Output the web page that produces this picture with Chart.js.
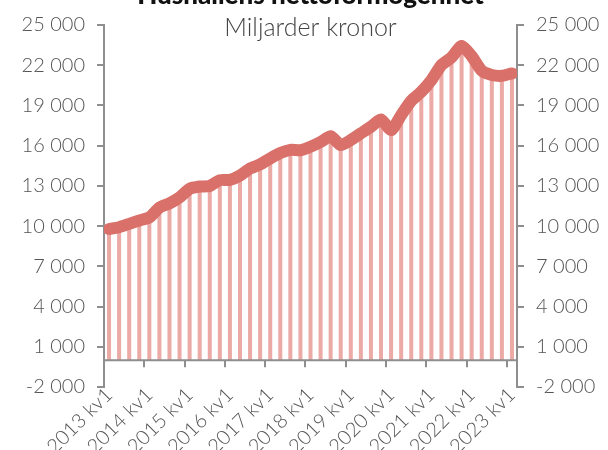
<!DOCTYPE html>
<html lang="sv">
<head>
<meta charset="utf-8">
<title>Hushållens nettoförmögenhet</title>
<script src="https://cdn.jsdelivr.net/npm/chart.js@4/dist/chart.umd.min.js"></script>
<style>
  html, body { margin: 0; padding: 0; background: #fff; }
  #wrap { width: 608px; height: 450px; }
</style>
</head>
<body>
<div id="wrap"><canvas id="wealthChart" width="608" height="450"></canvas></div>
<script>
// Hushållens nettoförmögenhet, miljarder kronor, kvartal 2013 kv1 - 2023 kv1
const quarters = [];
for (let year = 2013; year <= 2023; year++) {
  for (let q = 1; q <= 4; q++) {
    if (year === 2023 && q > 1) break;
    quarters.push(year + " kv" + q);
  }
}

const netWealth = [
  9780, 9920, 10170, 10420,
  10650, 11380, 11700, 12150,
  12780, 12950, 12990, 13430,
  13450, 13780, 14300, 14600,
  15050, 15450, 15690, 15660,
  15920, 16270, 16710, 16040,
  16420, 16920, 17410, 17960,
  17160, 18280, 19350, 20020,
  20890, 22010, 22580, 23430,
  22680, 21590, 21270, 21210,
  21390,
];

const yMin = -2000;
const yMax = 25000;
const yStep = 3000;

const lineColor = "#d9706a";
const barColor = "#ebaaa6";
const axisColor = "#8e8e8e";
const textColor = "#555555";
const tickFont = { family: "Lato", size: 20, weight: "300" };

function formatNumber(v) {
  const s = Math.abs(v).toString().replace(/\B(?=(\d{3})+(?!\d))/g, "\u00a0");
  return (v < 0 ? "-" : "") + s;
}

// zero line with year ticks, as in the original
const zeroAxis = {
  id: "zeroAxis",
  afterDatasetsDraw(chart) {
    const { ctx, chartArea, scales } = chart;
    const x = scales.x;
    const y0 = scales.y.getPixelForValue(0);
    const half = (x.getPixelForValue(1) - x.getPixelForValue(0)) / 2;
    ctx.save();
    ctx.strokeStyle = axisColor;
    ctx.lineWidth = 2;
    ctx.beginPath();
    ctx.moveTo(chartArea.left, y0);
    ctx.lineTo(chartArea.right, y0);
    quarters.forEach((q, i) => {
      if (i % 4 !== 0) return;
      const px = Math.round(x.getPixelForValue(i) - half);
      ctx.moveTo(px, y0);
      ctx.lineTo(px, y0 + 7);
    });
    ctx.stroke();
    ctx.restore();
  },
};

const headings = {
  id: "headings",
  afterDraw(chart) {
    const { ctx, chartArea } = chart;
    const cx = (chartArea.left + chartArea.right) / 2;
    ctx.save();
    ctx.textAlign = "center";
    ctx.textBaseline = "alphabetic";
    ctx.fillStyle = "#111111";
    ctx.font = "900 26px Lato";
    ctx.fillText("Hushållens nettoförmögenhet", cx, 4);
    ctx.fillStyle = "#444444";
    ctx.font = "300 25px Lato";
    ctx.fillText("Miljarder kronor", cx, 36);
    ctx.restore();
  },
};

const yAxis = (position, width) => ({
  type: "linear",
  position: position,
  min: yMin,
  max: yMax,
  afterFit(scale) {
    scale.width = width;
  },
  ticks: {
    stepSize: yStep,
    color: textColor,
    font: tickFont,
    padding: 12,
    callback: (v) => formatNumber(v),
  },
  grid: {
    drawOnChartArea: false,
    drawTicks: true,
    tickLength: 7,
    color: axisColor,
    lineWidth: 2,
  },
  border: { color: axisColor, width: 2 },
});

new Chart(document.getElementById("wealthChart"), {
  type: "bar",
  data: {
    labels: quarters,
    datasets: [
      {
        type: "line",
        label: "Nettoförmögenhet",
        data: netWealth,
        borderColor: lineColor,
        borderWidth: 12,
        borderJoinStyle: "round",
        borderCapStyle: "round",
        tension: 0.2,
        pointRadius: 0,
        clip: 0,
        order: 0,
        yAxisID: "y",
      },
      {
        type: "bar",
        label: "Nettoförmögenhet (stapel)",
        data: netWealth,
        backgroundColor: barColor,
        barPercentage: 0.4,
        categoryPercentage: 1,
        order: 1,
        yAxisID: "y",
      },
    ],
  },
  options: {
    responsive: false,
    animation: false,
    layout: { padding: { top: 25, left: 0, right: 0, bottom: 0 } },
    plugins: {
      legend: { display: false },
      tooltip: { enabled: false },
    },
    scales: {
      x: {
        type: "category",
        offset: true,
        afterFit(scale) {
          scale.height = 63;
        },
        grid: { display: false, drawTicks: false },
        border: { display: false },
        ticks: {
          autoSkip: false,
          minRotation: 45,
          maxRotation: 45,
          padding: -4,
          color: textColor,
          font: tickFont,
          callback: (v, i) => (i % 4 === 0 ? quarters[i] : ""),
        },
      },
      y: yAxis("left", 104),
      y2: yAxis("right", 91),
    },
  },
  plugins: [zeroAxis, headings],
});
</script>
</body>
</html>
